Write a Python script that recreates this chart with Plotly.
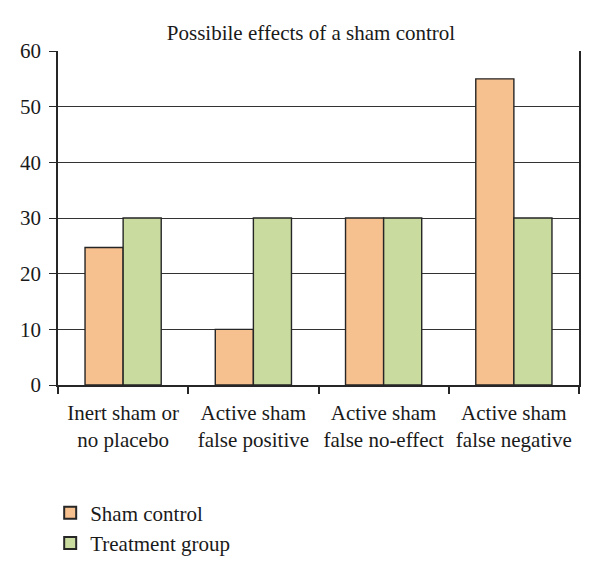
import plotly.graph_objects as go

categories = ["Inert sham or<br>no placebo", "Active sham<br>false positive",
              "Active sham<br>false no-effect", "Active sham<br>false negative"]
sham_control = [24.7, 10, 30, 55]
treatment_group = [30, 30, 30, 30]
y_ticks = [0, 10, 20, 30, 40, 50, 60]

FONT = "Liberation Serif"
OFF = 8  # page body margin offset
W, H = 600 - OFF, 575 - OFF
fig = go.Figure()
fig.add_trace(go.Bar(name="Sham control", x=categories, y=sham_control,
                     marker=dict(color="#F7C08F", line=dict(color="#262626", width=1.4))))
fig.add_trace(go.Bar(name="Treatment group", x=categories, y=treatment_group,
                     marker=dict(color="#CADBA0", line=dict(color="#262626", width=1.4))))

fig.update_layout(
    width=W, height=H,
    margin=dict(l=58 - OFF, r=600 - 579, t=51 - OFF, b=575 - 385, autoexpand=False),
    paper_bgcolor="white", plot_bgcolor="white",
    barmode="group", bargap=0.415, bargroupgap=0,
    font=dict(family=FONT, size=21, color="#1a1a1a"),
    title=dict(text="Possibile effects of a sham control", x=(311 - OFF) / W, xanchor="center",
               y=1 - (33 - OFF) / H, yanchor="middle", font=dict(family=FONT, size=21)),
    xaxis=dict(showline=True, linecolor="#262626", linewidth=1.5,
               ticks="outside", tickson="boundaries", ticklen=7, tickcolor="#262626",
               tickwidth=1.5, showgrid=False, mirror=False, ticklabelstandoff=8,
               tickfont=dict(family=FONT, size=21)),
    yaxis=dict(range=[0, 60], tickvals=y_ticks, showline=True, linecolor="#262626",
               linewidth=1.5, mirror=True, ticks="outside", ticklen=7,
               tickcolor="#262626", tickwidth=1.3, ticklabelstandoff=4,
               showgrid=True, gridcolor="#333333", gridwidth=1.3, zeroline=False,
               tickfont=dict(family=FONT, size=21)),
    legend=dict(orientation="v", x=-0.015, xanchor="left", y=-0.322, yanchor="top",
                font=dict(family=FONT, size=21), traceorder="normal",
                itemsizing="constant", tracegroupgap=0),
    showlegend=True,
)
fig.write_html("out.html")
